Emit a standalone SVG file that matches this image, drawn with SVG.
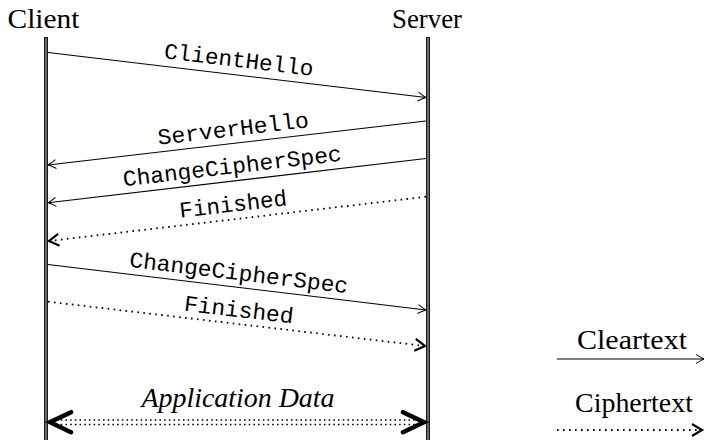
<svg xmlns="http://www.w3.org/2000/svg" width="705" height="440" viewBox="0 0 705 440">
<style>
.hdr{font-family:"Liberation Serif","DejaVu Serif",serif;font-size:27px;fill:#000}
.it{font-family:"Liberation Serif","DejaVu Serif",serif;font-size:27px;font-style:italic;fill:#000}
.tt{font-family:"Liberation Mono","DejaVu Sans Mono",monospace;font-size:22.5px;fill:#000;text-anchor:middle}
.life{fill:#6a6a6a;stroke:#1a1a1a;stroke-width:1}
.solid{stroke:#000;stroke-width:1.1;fill:none}
.dot{stroke:#000;stroke-width:1.8;fill:none;stroke-dasharray:1.6 4.4}
.dot2{stroke:#000;stroke-width:1.6;fill:none;stroke-dasharray:1.6 3.1}
</style>
<defs>
<marker id="thin" markerUnits="userSpaceOnUse" markerWidth="14" markerHeight="14" viewBox="-12 -7 14 14" refX="0" refY="0" orient="auto">
<path d="M-8,-4.5 Q-3,-1.2 0,0 Q-3,1.2 -8,4.5" fill="none" stroke="#000" stroke-width="1"/>
</marker>
<marker id="bold" markerUnits="userSpaceOnUse" markerWidth="16" markerHeight="16" viewBox="-13 -8 16 16" refX="0" refY="0" orient="auto">
<path d="M-10,-6 L0,0 L-10,6" fill="none" stroke="#000" stroke-width="2.2" stroke-linejoin="miter"/>
</marker>
<marker id="big" markerUnits="userSpaceOnUse" markerWidth="34" markerHeight="30" viewBox="-30 -15 34 30" refX="0" refY="0" orient="auto-start-reverse">
<path d="M-22,-10 L-1,0 L-22,10" fill="none" stroke="#000" stroke-width="4.5" stroke-linecap="round" stroke-linejoin="miter"/>
</marker>
</defs>

<g id="client">
<text class="hdr" x="43.5" y="28" text-anchor="middle" textLength="72" lengthAdjust="spacingAndGlyphs">Client</text>
<rect class="life" x="44.5" y="37.5" width="3" height="404"/>
</g>
<g id="server">
<text class="hdr" x="427" y="28" text-anchor="middle" textLength="70" lengthAdjust="spacingAndGlyphs">Server</text>
<rect class="life" x="426.5" y="37.5" width="3" height="404"/>
</g>

<g id="connectors">
<g id="m1">
<line class="solid" x1="48" y1="52.5" x2="426" y2="97.5" marker-end="url(#thin)"/>
<text class="tt" x="238" y="67" transform="rotate(6.79 238 67)" textLength="150" lengthAdjust="spacingAndGlyphs">ClientHello</text>
</g>
<g id="m2">
<line class="solid" x1="426" y1="121" x2="48" y2="165" marker-end="url(#thin)"/>
<text class="tt" x="234" y="136" transform="rotate(-6.68 234 136)" textLength="152" lengthAdjust="spacingAndGlyphs">ServerHello</text>
</g>
<g id="m3">
<line class="solid" x1="426" y1="158.5" x2="48" y2="202.8" marker-end="url(#thin)"/>
<text class="tt" x="233" y="173.5" transform="rotate(-6.7 233 173.5)" textLength="220" lengthAdjust="spacingAndGlyphs">ChangeCipherSpec</text>
</g>
<g id="m4">
<line class="dot" x1="426" y1="196.7" x2="49" y2="241" marker-end="url(#bold)"/>
<text class="tt" x="234" y="211.5" transform="rotate(-6.68 234 211.5)" textLength="108" lengthAdjust="spacingAndGlyphs">Finished</text>
</g>
<g id="m5">
<line class="solid" x1="48" y1="264.5" x2="426" y2="310" marker-end="url(#thin)"/>
<text class="tt" x="238" y="280" transform="rotate(6.9 238 280)" textLength="220" lengthAdjust="spacingAndGlyphs">ChangeCipherSpec</text>
</g>
<g id="m6">
<line class="dot" x1="48" y1="301.7" x2="425" y2="346" marker-end="url(#bold)"/>
<text class="tt" x="238" y="317" transform="rotate(6.7 238 317)" textLength="110" lengthAdjust="spacingAndGlyphs">Finished</text>
</g>
<g id="m7">
<line class="dot2" x1="56" y1="420" x2="418" y2="420"/>
<line class="dot2" x1="56" y1="424.5" x2="418" y2="424.5"/>
<line x1="49" y1="422.2" x2="425" y2="422.2" stroke="none" marker-start="url(#big)" marker-end="url(#big)"/>
<text class="it" x="238" y="407" text-anchor="middle" textLength="193" lengthAdjust="spacingAndGlyphs">Application Data</text>
</g>
</g>

<g id="legend">
<text class="hdr" x="632" y="349" text-anchor="middle" textLength="110" lengthAdjust="spacingAndGlyphs">Cleartext</text>
<line class="solid" x1="557" y1="359" x2="704" y2="359" marker-end="url(#thin)"/>
<text class="hdr" x="634" y="412" text-anchor="middle" textLength="118" lengthAdjust="spacingAndGlyphs">Ciphertext</text>
<line class="dot" x1="557" y1="430" x2="702" y2="430" marker-end="url(#bold)"/>
</g>
</svg>
